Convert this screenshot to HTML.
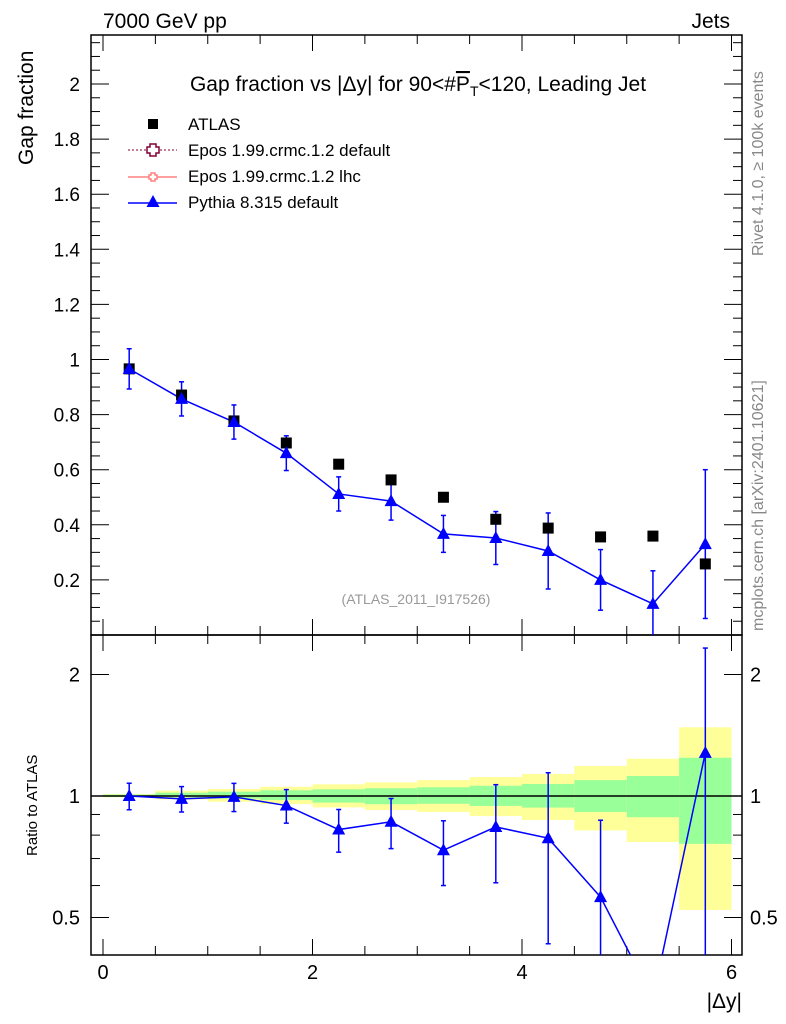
<!DOCTYPE html>
<html><head><meta charset="utf-8"><style>
html,body{margin:0;background:#fff;overflow:hidden;width:786px;height:1024px;}
svg{display:block;}
svg text{font-family:"Liberation Sans",sans-serif;}
</style></head><body>
<svg id="c" width="786" height="1024" xmlns="http://www.w3.org/2000/svg" style="position:absolute;left:0;top:0"></svg>
<script>
const binLo=[0,0.5,1,1.5,2,2.5,3,3.5,4,4.5,5,5.5];
const xCenters=[0.25,0.75,1.25,1.75,2.25,2.75,3.25,3.75,4.25,4.75,5.25,5.75];
const atlasVals=[0.966,0.871,0.777,0.697,0.62,0.563,0.50,0.42,0.388,0.356,0.359,0.258];
const pythiaVals=[0.966,0.857,0.773,0.66,0.512,0.486,0.367,0.352,0.305,0.20,0.113,0.33];
const pythiaErrs=[0.073,0.062,0.062,0.063,0.062,0.069,0.067,0.096,0.138,0.11,0.12,0.27];
const yellowHi=[1.011,1.031,1.041,1.054,1.069,1.081,1.095,1.114,1.134,1.187,1.237,1.48];
const yellowLo=[0.993,0.981,0.968,0.955,0.937,0.923,0.913,0.892,0.872,0.822,0.769,0.522];
const greenHi=[1.008,1.019,1.025,1.033,1.039,1.045,1.051,1.060,1.071,1.095,1.121,1.244];
const greenLo=[0.995,0.993,0.985,0.977,0.963,0.954,0.957,0.945,0.936,0.913,0.886,0.761];
const mainTicks=[0,0.2,0.4,0.6,0.8,1,1.2,1.4,1.6,1.8,2];
const mainTickLabels=["0","0.2","0.4","0.6","0.8","1","1.2","1.4","1.6","1.8","2"];
const ratioTicks=[0.5,1,2];
const ratioTickLabels=["0.5","1","2"];
const xTicks=[0,2,4,6];
const xTickLabels=["0","2","4","6"];

const NS="http://www.w3.org/2000/svg";
const svg=document.getElementById('c');
const L=91,R=742,MT=35,MB=635,RB=955;
const X=v=>103+v*104.75;
const Y=v=>635-v*275.5;
const YR=v=>796-Math.log2(v)*121.5;
const RMIN=0.404;
function el(tag,attrs,parent){const e=document.createElementNS(NS,tag);for(const k in attrs)e.setAttribute(k,attrs[k]);(parent||svg).appendChild(e);return e;}
function txt(s,attrs){const e=el('text',attrs);e.textContent=s;return e;}

const bands=el('g',{});


binLo.forEach((b,i)=>{
  const r=el('rect',{x:X(b),y:YR(yellowHi[i]),width:X(b+0.5)-X(b),height:YR(yellowLo[i])-YR(yellowHi[i]),fill:'#ffff99'},bands);
  
  
  const g=el('rect',{x:X(b),y:YR(greenHi[i]),width:X(b+0.5)-X(b),height:YR(greenLo[i])-YR(greenHi[i]),fill:'#99ff99'},bands);
  
  
});
el('line',{x1:L,x2:R,y1:YR(1),y2:YR(1),stroke:'#000','stroke-width':1.5});

el('rect',{x:L,y:MT,width:R-L,height:MB-MT,fill:'none',stroke:'#000','stroke-width':1.5});
el('rect',{x:L,y:MB,width:R-L,height:RB-MB,fill:'none',stroke:'#000','stroke-width':1.5});

for(let v=0;v<=2.17;v+=0.05){const major=Math.abs(v*5-Math.round(v*5))<1e-6;const len=major?18:9;const y=Y(v);
 el('line',{x1:L,x2:L+len,y1:y,y2:y,stroke:'#000'});el('line',{x1:R,x2:R-len,y1:y,y2:y,stroke:'#000'});}
mainTicks.forEach((v,i)=>{if(v===0)return;const t=txt(mainTickLabels[i],{x:80,y:Y(v)+7,'font-size':19,'text-anchor':'end'});
 });
[0.5,0.6,0.7,0.8,0.9,1,2].forEach(v=>{const major=ratioTicks.includes(v);const len=major?18:9;const y=YR(v);
 el('line',{x1:L,x2:L+len,y1:y,y2:y,stroke:'#000'});el('line',{x1:R,x2:R-len,y1:y,y2:y,stroke:'#000'});});
ratioTicks.forEach((v,i)=>{
 const a=txt(ratioTickLabels[i],{x:80,y:YR(v)+7,'font-size':20,'text-anchor':'end'});
 
 const b=txt(ratioTickLabels[i],{x:750,y:YR(v)+7,'font-size':20});
 });
for(let v=0;v<=6.1;v+=0.5){const x=X(v);const major=Math.abs(v-Math.round(v))<1e-6&&Math.round(v)%2===0;const len=major?16:9;
 el('line',{x1:x,x2:x,y1:MB,y2:MB-len,stroke:'#000'});el('line',{x1:x,x2:x,y1:MB,y2:MB+len,stroke:'#000'});
 el('line',{x1:x,x2:x,y1:RB,y2:RB-len,stroke:'#000'});el('line',{x1:x,x2:x,y1:MT,y2:MT+len,stroke:'#000'});}
xTicks.forEach((v,i)=>{const t=txt(xTickLabels[i],{x:X(v),y:979,'font-size':20,'text-anchor':'middle'});
 });

const defs=el('defs',{});
const c1=el('clipPath',{id:'cm'},defs);el('rect',{x:L,y:MT,width:R-L,height:MB-MT},c1);
const c2=el('clipPath',{id:'cr'},defs);el('rect',{x:L,y:MB,width:R-L,height:RB-MB},c2);

function tri(x,y,g){return el('polygon',{points:`${x},${y-7} ${x-6.5},${y+5} ${x+6.5},${y+5}`,fill:'#0000ff'},g);}

const gm=el('g',{'clip-path':'url(#cm)'});
el('polyline',{points:xCenters.map((x,i)=>X(x)+','+Y(pythiaVals[i])).join(' '),fill:'none',stroke:'#0000ff','stroke-width':1.5},gm);
xCenters.forEach((x,i)=>{
 const cx=X(x),lo=Y(pythiaVals[i]-pythiaErrs[i]),hi=Y(pythiaVals[i]+pythiaErrs[i]);
 el('line',{x1:cx,x2:cx,y1:lo,y2:hi,stroke:'#0000ff','stroke-width':1.5},gm);
 el('line',{x1:cx-2.5,x2:cx+2.5,y1:lo,y2:lo,stroke:'#0000ff','stroke-width':1.5},gm);
 el('line',{x1:cx-2.5,x2:cx+2.5,y1:hi,y2:hi,stroke:'#0000ff','stroke-width':1.5},gm);
 const s=el('rect',{x:cx-5.5,y:Y(atlasVals[i])-5.5,width:11,height:11,fill:'#000'},gm);
 
 const t=tri(cx,Y(pythiaVals[i]),gm);
 
});
const gr=el('g',{'clip-path':'url(#cr)'});
const rat=pythiaVals.map((v,i)=>v/atlasVals[i]);
el('polyline',{points:xCenters.map((x,i)=>X(x)+','+YR(rat[i])).join(' '),fill:'none',stroke:'#0000ff','stroke-width':1.5},gr);
xCenters.forEach((x,i)=>{
 if(rat[i]<RMIN)return;
 const cx=X(x),e=pythiaErrs[i]/atlasVals[i];
 const lo=YR(Math.max(rat[i]-e,0.01)),hi=YR(rat[i]+e);
 el('line',{x1:cx,x2:cx,y1:lo,y2:hi,stroke:'#0000ff','stroke-width':1.5},gr);
 el('line',{x1:cx-2.5,x2:cx+2.5,y1:lo,y2:lo,stroke:'#0000ff','stroke-width':1.5},gr);
 el('line',{x1:cx-2.5,x2:cx+2.5,y1:hi,y2:hi,stroke:'#0000ff','stroke-width':1.5},gr);
 const t=tri(cx,YR(rat[i]),gr);
 
});

const lg=el('g',{});

el('rect',{x:148,y:119,width:10,height:10,fill:'#000'},lg);
el('line',{x1:128,x2:177,y1:150,y2:150,stroke:'#800033','stroke-dasharray':'2,2'},lg);
el('path',{d:'M150,144h6v3h3v6h-3v3h-6v-3h-3v-6h3z',fill:'#fff',stroke:'#800033','stroke-width':1.5},lg);
el('line',{x1:128,x2:177,y1:177,y2:177,stroke:'#ff8080','stroke-width':1.5},lg);
el('path',{d:'M151,173h4v2h2v4h-2v2h-4v-2h-2v-4h2z',fill:'#fff',stroke:'#ff8080','stroke-width':1.5},lg);
el('line',{x1:128,x2:177,y1:203,y2:203,stroke:'#0000ff','stroke-width':1.5},lg);
tri(153,202,lg);
[['ATLAS',130],['Epos 1.99.crmc.1.2 default',156],['Epos 1.99.crmc.1.2 lhc',182],['Pythia 8.315 default',208]].forEach(([s,y])=>{
 const t=txt(s,{x:188,y:y,'font-size':17});});
</script>
<svg width="786" height="1024" style="position:absolute;left:0;top:0" xmlns="http://www.w3.org/2000/svg">
<text x="103" y="28" font-size="21">7000 GeV pp</text>
<text x="730" y="28" font-size="21" text-anchor="end">Jets</text>
<text x="418" y="91" font-size="21" text-anchor="middle">Gap fraction vs |Δy| for 90&lt;#<tspan text-decoration="overline">P</tspan><tspan font-size="14" dy="5">T</tspan><tspan dy="-5">&lt;120, Leading Jet</tspan></text>
<text transform="translate(33,165) rotate(-90)" font-size="21">Gap fraction</text>
<text transform="translate(37,856) rotate(-90)" font-size="15">Ratio to ATLAS</text>
<text x="742" y="1008" font-size="21" text-anchor="end">|Δy|</text>
<text x="416" y="604" font-size="14" fill="#999" text-anchor="middle">(ATLAS_2011_I917526)</text>
<text transform="translate(763,256) rotate(-90)" font-size="16" fill="#888">Rivet 4.1.0, ≥ 100k events</text>
<text transform="translate(763,631) rotate(-90)" font-size="16" fill="#888">mcplots.cern.ch [arXiv:2401.10621]</text>
</svg>
</body></html>
